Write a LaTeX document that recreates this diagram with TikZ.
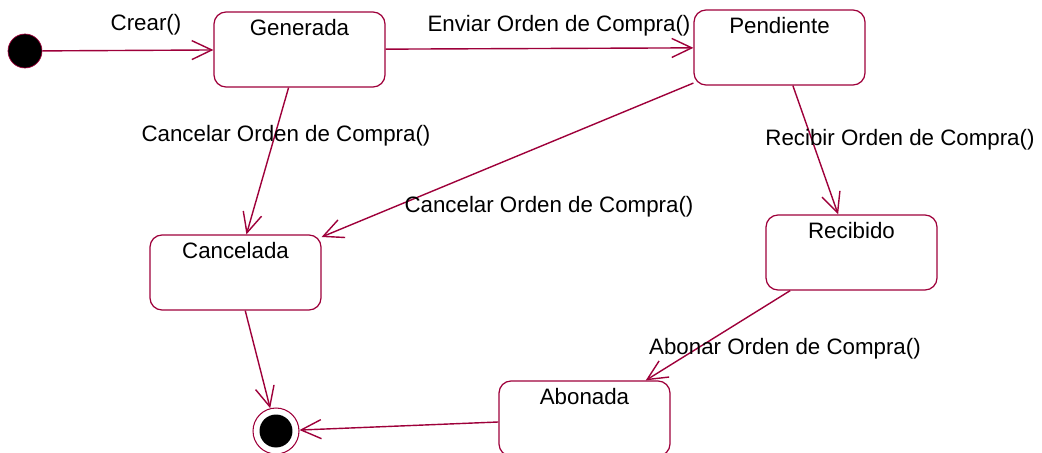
\documentclass[tikz,border=0pt]{standalone}
\usepackage{fontspec}
\setmainfont{Liberation Sans}
\usetikzlibrary{arrows.meta}
\definecolor{umlred}{RGB}{158,0,58}

\tikzset{
  etiq/.style={font=\fontsize{12.7}{15}\selectfont},
  estado/.style={draw=umlred,line width=0.7pt,rounded corners=0.24cm,
    minimum width=3.42cm,minimum height=1.5cm,
    label={[etiq,anchor=north,yshift=-1.2pt]north:#1}},
  trans/.style={umlred,line width=0.8pt,-{Straight Barb[length=0.4cm,width=0.38cm]}}
}

\begin{document}
\begin{tikzpicture}[x=0.02cm,y=-0.02cm]
    \useasboundingbox (0,0) rectangle (1042,453);
    % estados
    \node[circle,fill=black,draw=umlred,minimum size=0.68cm,inner sep=0pt] (ini) at (25,51) {};
    \node[estado=Generada] (gen) at (299.5,49.5) {};
    \node[estado=Pendiente] (pend) at (779.5,47.5) {};
    \node[estado=Cancelada] (canc) at (235.5,272.5) {};
    \node[estado=Recibido] (rec) at (851.5,252.5) {};
    \node[estado=Abonada] (abon) at (584.5,418.5) {};
    \node[circle,draw=umlred,line width=0.6pt,minimum size=0.92cm,inner sep=0pt] (fin) at (276,431) {};
    \node[circle,fill=black,minimum size=0.66cm,inner sep=0pt] (finin) at (fin) {};
    % transiciones
    \draw[trans] (ini) -- (gen);
    \draw[trans] (gen) -- (pend);
    \draw[trans] (gen) -- (canc);
    \draw[trans] (pend) -- (canc);
    \draw[trans] (pend) -- (rec);
    \draw[trans] (rec) -- (abon);
    \draw[trans] (canc) -- (fin);
    \draw[trans] (abon) -- (fin);
    % eventos
    \node[etiq] (ecrear) at (146,25) {Crear()};
    \node[etiq] (eenviar) at (559,26) {Enviar Orden de Compra()};
    \node[etiq] (ecanc1) at (286,136) {Cancelar Orden de Compra()};
    \node[etiq] (ecanc2) at (549,207) {Cancelar Orden de Compra()};
    \node[etiq] (erecib) at (900,140) {Recibir Orden de Compra()};
    \node[etiq] (eabon) at (785,349) {Abonar Orden de Compra()};
\end{tikzpicture}
\end{document}
